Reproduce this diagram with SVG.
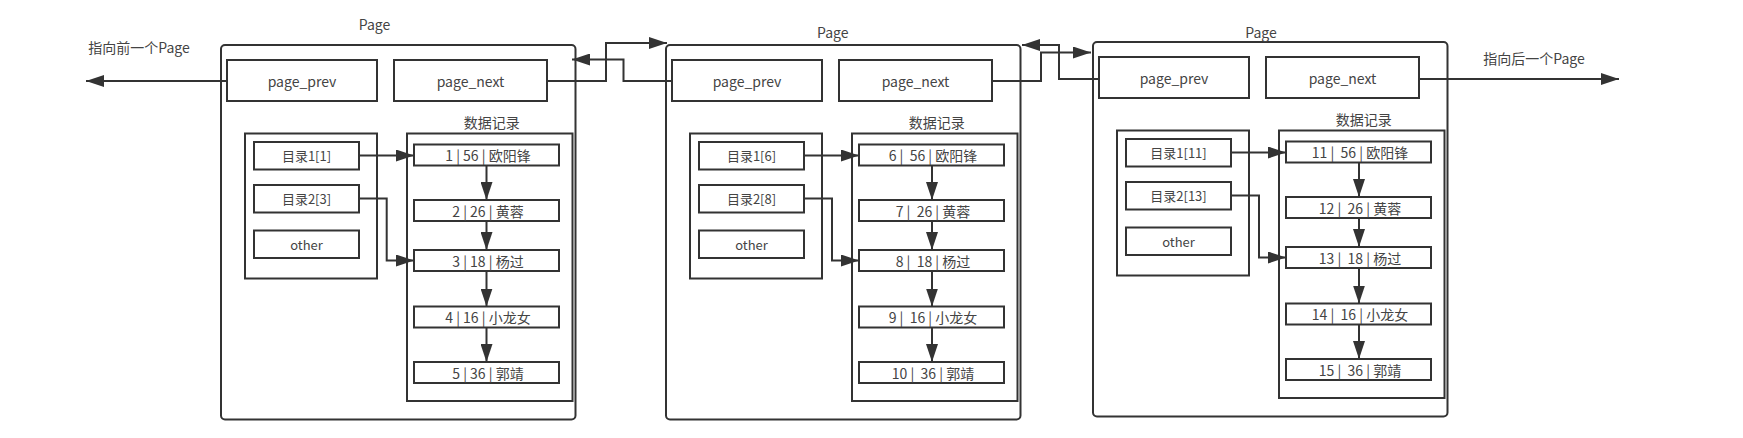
<svg xmlns="http://www.w3.org/2000/svg" width="1743" height="438" viewBox="0 0 1743 438">
<defs>
<style>
.box{fill:#fff;stroke:#333;stroke-width:2}
.page{fill:none;stroke:#333;stroke-width:2}
.cont{fill:none;stroke:#333;stroke-width:2}
.t{font-family:"Noto Sans CJK SC","Noto Sans",sans-serif;fill:#444;text-anchor:middle;dominant-baseline:central;white-space:pre}
.t14{font-size:14px}
.t13{font-size:13px}
.ln{fill:none;stroke:#333;stroke-width:2}
</style>
<marker id="arr" markerUnits="userSpaceOnUse" markerWidth="18" markerHeight="12" refX="18" refY="6" orient="auto">
<path d="M0,0 L18,6 L0,12 z" fill="#333"/>
</marker>
</defs>
<rect width="1743" height="438" fill="#fff"/>

<g id="label-prev"><text class="t t14" x="139" y="47">指向前一个Page</text></g>
<g id="label-next"><text class="t t14" x="1534" y="58">指向后一个Page</text></g>

<!-- Page 1 -->
<g id="page1">
<rect class="page" x="221" y="45" width="354.5" height="374.5" rx="4"/>
<text class="t t14" x="374.5" y="24">Page</text>
<g id="p1-prev"><rect class="box" x="227" y="60" width="150" height="41"/><text class="t t14" x="302" y="80.5">page_prev</text></g>
<g id="p1-next"><rect class="box" x="394" y="60" width="153" height="41"/><text class="t t14" x="470.5" y="80.5">page_next</text></g>
<g id="p1-dir">
<rect class="cont" x="245" y="133.5" width="132" height="145"/>
<g id="p1-dir1"><rect class="box" x="254" y="142" width="105" height="27.5"/><text class="t t13" x="306.5" y="155.75">目录1[1]</text></g>
<g id="p1-dir2"><rect class="box" x="254" y="185" width="105" height="27.5"/><text class="t t13" x="306.5" y="198.75">目录2[3]</text></g>
<g id="p1-other"><rect class="box" x="254" y="230.5" width="105" height="27.5"/><text class="t t13" x="306.5" y="244.25">other</text></g>
</g>
<g id="p1-records">
<text class="t t14" x="491.7" y="122">数据记录</text>
<rect class="cont" x="407" y="133.5" width="165.5" height="267.5"/>
<g id="p1-r1"><rect class="box" x="414" y="144.5" width="145" height="21"/><text class="t t14" x="488" y="155">1 | 56 | 欧阳锋</text></g>
<g id="p1-r2"><rect class="box" x="414" y="200" width="145" height="21"/><text class="t t14" x="488" y="210.5">2 | 26 | 黄蓉</text></g>
<g id="p1-r3"><rect class="box" x="414" y="250" width="145" height="21"/><text class="t t14" x="488" y="260.5">3 | 18 | 杨过</text></g>
<g id="p1-r4"><rect class="box" x="414" y="306.5" width="145" height="21"/><text class="t t14" x="488" y="317">4 | 16 | 小龙女</text></g>
<g id="p1-r5"><rect class="box" x="414" y="362" width="145" height="21"/><text class="t t14" x="488" y="372.5">5 | 36 | 郭靖</text></g>
</g>
</g>

<!-- Page 2 -->
<g id="page2" transform="translate(445,0)">
<rect class="page" x="221" y="45" width="354.5" height="374.5" rx="4"/>
<text class="t t14" x="387.7" y="32">Page</text>
<g id="p2-prev"><rect class="box" x="227" y="60" width="150" height="41"/><text class="t t14" x="302" y="80.5">page_prev</text></g>
<g id="p2-next"><rect class="box" x="394" y="60" width="153" height="41"/><text class="t t14" x="470.5" y="80.5">page_next</text></g>
<g id="p2-dir">
<rect class="cont" x="245" y="133.5" width="132" height="145"/>
<g id="p2-dir1"><rect class="box" x="254" y="142" width="105" height="27.5"/><text class="t t13" x="306.5" y="155.75">目录1[6]</text></g>
<g id="p2-dir2"><rect class="box" x="254" y="185" width="105" height="27.5"/><text class="t t13" x="306.5" y="198.75">目录2[8]</text></g>
<g id="p2-other"><rect class="box" x="254" y="230.5" width="105" height="27.5"/><text class="t t13" x="306.5" y="244.25">other</text></g>
</g>
<g id="p2-records">
<text class="t t14" x="491.7" y="122">数据记录</text>
<rect class="cont" x="407" y="133.5" width="165.5" height="267.5"/>
<g id="p2-r1"><rect class="box" x="414" y="144.5" width="145" height="21"/><text class="t t14" x="488" y="155">6 |  56 | 欧阳锋</text></g>
<g id="p2-r2"><rect class="box" x="414" y="200" width="145" height="21"/><text class="t t14" x="488" y="210.5">7 |  26 | 黄蓉</text></g>
<g id="p2-r3"><rect class="box" x="414" y="250" width="145" height="21"/><text class="t t14" x="488" y="260.5">8 |  18 | 杨过</text></g>
<g id="p2-r4"><rect class="box" x="414" y="306.5" width="145" height="21"/><text class="t t14" x="488" y="317">9 |  16 | 小龙女</text></g>
<g id="p2-r5"><rect class="box" x="414" y="362" width="145" height="21"/><text class="t t14" x="488" y="372.5">10 |  36 | 郭靖</text></g>
</g>
</g>

<!-- Page 3 -->
<g id="page3" transform="translate(872,-3)">
<rect class="page" x="221" y="45" width="354.5" height="374.5" rx="4"/>
<text class="t t14" x="389" y="34.5">Page</text>
<g id="p3-prev"><rect class="box" x="227" y="60" width="150" height="41"/><text class="t t14" x="302" y="80.5">page_prev</text></g>
<g id="p3-next"><rect class="box" x="394" y="60" width="153" height="41"/><text class="t t14" x="470.5" y="80.5">page_next</text></g>
<g id="p3-dir">
<rect class="cont" x="245" y="133.5" width="132" height="145"/>
<g id="p3-dir1"><rect class="box" x="254" y="142" width="105" height="27.5"/><text class="t t13" x="306.5" y="155.75">目录1[11]</text></g>
<g id="p3-dir2"><rect class="box" x="254" y="185" width="105" height="27.5"/><text class="t t13" x="306.5" y="198.75">目录2[13]</text></g>
<g id="p3-other"><rect class="box" x="254" y="230.5" width="105" height="27.5"/><text class="t t13" x="306.5" y="244.25">other</text></g>
</g>
<g id="p3-records">
<text class="t t14" x="491.7" y="122">数据记录</text>
<rect class="cont" x="407" y="133.5" width="165.5" height="267.5"/>
<g id="p3-r1"><rect class="box" x="414" y="144.5" width="145" height="21"/><text class="t t14" x="488" y="155">11 |  56 | 欧阳锋</text></g>
<g id="p3-r2"><rect class="box" x="414" y="200" width="145" height="21"/><text class="t t14" x="488" y="210.5">12 |  26 | 黄蓉</text></g>
<g id="p3-r3"><rect class="box" x="414" y="250" width="145" height="21"/><text class="t t14" x="488" y="260.5">13 |  18 | 杨过</text></g>
<g id="p3-r4"><rect class="box" x="414" y="306.5" width="145" height="21"/><text class="t t14" x="488" y="317">14 |  16 | 小龙女</text></g>
<g id="p3-r5"><rect class="box" x="414" y="362" width="145" height="21"/><text class="t t14" x="488" y="372.5">15 |  36 | 郭靖</text></g>
</g>
</g>

<g id="connectors">
<path class="ln" d="M227,81 H86" marker-end="url(#arr)"/>
<path class="ln" d="M547,81 H606 V43 H667" marker-end="url(#arr)"/>
<path class="ln" d="M672,81 H623.5 V59.5 H572" marker-end="url(#arr)"/>
<path class="ln" d="M992,81 H1041 V52.5 H1091" marker-end="url(#arr)"/>
<path class="ln" d="M1099,79 H1059 V45 H1022" marker-end="url(#arr)"/>
<path class="ln" d="M1419,79 H1619" marker-end="url(#arr)"/>
<g id="p1-conn">
<path class="ln" d="M359,155.5 H414" marker-end="url(#arr)"/>
<path class="ln" d="M359,198.5 H386.7 V260.5 H414" marker-end="url(#arr)"/>
<path class="ln" d="M486.5,165.5 V200" marker-end="url(#arr)"/>
<path class="ln" d="M486.5,221 V250" marker-end="url(#arr)"/>
<path class="ln" d="M486.5,271 V306.5" marker-end="url(#arr)"/>
<path class="ln" d="M486.5,327.5 V362" marker-end="url(#arr)"/>
</g>
<g id="p2-conn" transform="translate(445,0)">
<path class="ln" d="M359,155.5 H414" marker-end="url(#arr)"/>
<path class="ln" d="M359,198.5 H387 V260.5 H414" marker-end="url(#arr)"/>
<path class="ln" d="M487,165.5 V200" marker-end="url(#arr)"/>
<path class="ln" d="M487,221 V250" marker-end="url(#arr)"/>
<path class="ln" d="M487,271 V306.5" marker-end="url(#arr)"/>
<path class="ln" d="M487,327.5 V362" marker-end="url(#arr)"/>
</g>
<g id="p3-conn" transform="translate(872,-3)">
<path class="ln" d="M359,155.5 H414" marker-end="url(#arr)"/>
<path class="ln" d="M359,198.5 H387 V260.5 H414" marker-end="url(#arr)"/>
<path class="ln" d="M487,165.5 V200" marker-end="url(#arr)"/>
<path class="ln" d="M487,221 V250" marker-end="url(#arr)"/>
<path class="ln" d="M487,271 V306.5" marker-end="url(#arr)"/>
<path class="ln" d="M487,327.5 V362" marker-end="url(#arr)"/>
</g>
</g>
</svg>
